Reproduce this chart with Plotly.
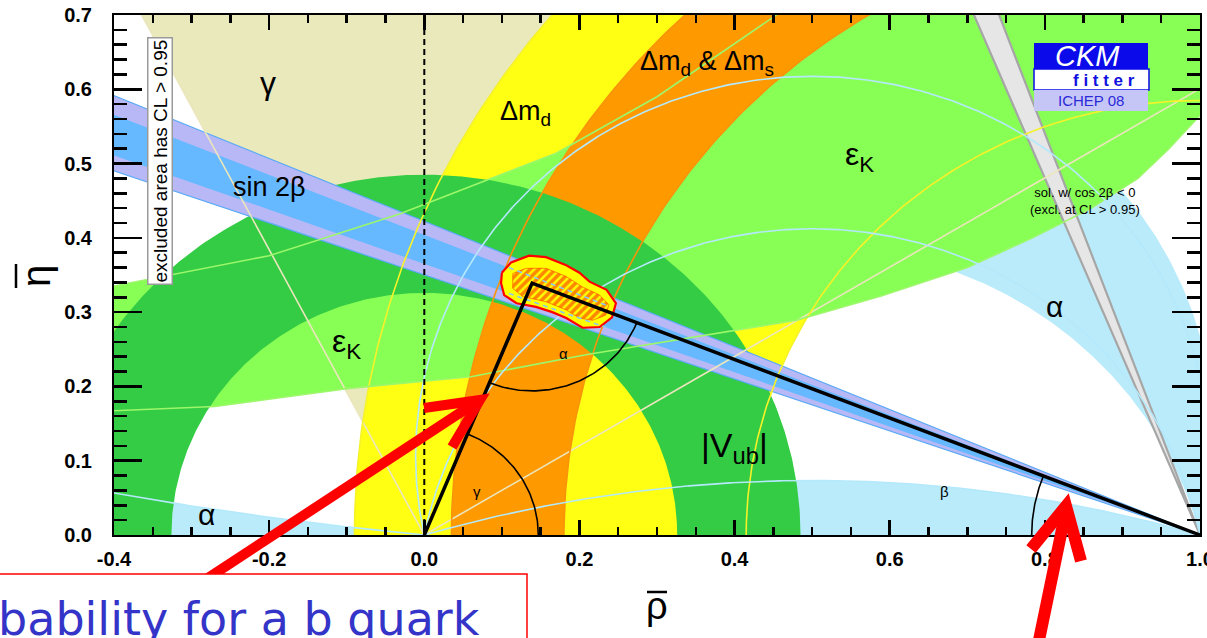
import numpy as np
import plotly.graph_objects as go

# ---------------- data ----------------
rho_range = [-0.4, 1.0]
eta_range = [0.0, 0.7]
rho_ticks = [-0.4, -0.2, 0.0, 0.2, 0.4, 0.6, 0.8, 1.0]
eta_ticks = [0.0, 0.1, 0.2, 0.3, 0.4, 0.5, 0.6, 0.7]

gamma_deg = [31.0, 117.5]            # gamma wedge from (0,0)
alpha_band_deg = [75.0, 104.3]        # alpha crescent
alpha_small_deg = 5.7                 # alpha mirror solution (small)
alpha_large_deg = 163.3               # alpha mirror solution (large)
alpha_line_deg = [78.0, 101.0]        # inner alpha contours
dmd_radii = [0.585, 1.09]             # Delta m_d annulus around (1,0)
dms_radii = [0.82, 0.965]             # Delta m_d & Delta m_s annulus around (1,0)
vub_radii = [0.326, 0.485]            # |Vub| annulus around (0,0)
sin2b_outer_deg = [19.3, 22.9]
sin2b_inner_deg = [20.05, 22.0]
cos2b_deg = [67.4, 69.7]

ek_up_rho = [-0.45, -0.4, -0.2, -0.032, 0.17, 0.3, 0.454, 0.55]
ek_up_eta = [0.325, 0.335, 0.376, 0.432, 0.514, 0.59, 0.70, 0.80]
ek_lo_rho = [-0.45, -0.4, -0.27, -0.1, 0.06, 0.21, 0.4, 0.48, 0.59, 0.70, 0.784, 0.86, 0.92, 0.96, 1.0, 1.05]
ek_lo_eta = [0.165, 0.167, 0.173, 0.197, 0.213, 0.243, 0.276, 0.289, 0.322, 0.36, 0.40, 0.44, 0.48, 0.52, 0.565, 0.65]

blob_rho = [0.100, 0.112, 0.135, 0.157, 0.183, 0.200, 0.213, 0.235, 0.247, 0.242, 0.226, 0.204,
            0.183, 0.165, 0.144, 0.119, 0.103, 0.099]
blob_eta = [0.353, 0.367, 0.376, 0.374, 0.363, 0.353, 0.341, 0.330, 0.312, 0.293, 0.280, 0.279,
            0.292, 0.300, 0.307, 0.312, 0.323, 0.339]
core_rho = [0.114, 0.131, 0.157, 0.183, 0.204, 0.226, 0.238, 0.234, 0.217, 0.200, 0.183, 0.157, 0.127, 0.114]
core_eta = [0.352, 0.359, 0.359, 0.348, 0.334, 0.323, 0.310, 0.296, 0.289, 0.292, 0.303, 0.314, 0.321, 0.332]

apex_rho, apex_eta = 0.139, 0.339
angle_arc_r = [0.147, 0.145, 0.217]   # gamma, alpha, beta arcs

# ---------------- colours ----------------
C_GAMMA = "#e9e9bb"
C_ALPHA = "#b9ebfb"
C_DMD = "#ffff14"
C_DMS = "#ff9900"
C_EK = "#88ff55"
C_VUB = "#33cc44"
C_S2B_OUT = "#b8b8f6"
C_S2B_IN = "#66b8ff"
C_COS = "#e6e6e6"


def arc(cx, cy, r, t0, t1, n=300):
    t = np.linspace(t0, t1, n)
    return cx + r * np.cos(t), cy + r * np.sin(t)


def alpha_circle(a_deg, n=400):
    cy = 0.5 / np.tan(np.radians(a_deg))
    R = np.hypot(0.5, cy)
    ta = np.arctan2(-cy, 0.5)
    return arc(0.5, cy, R, ta, np.pi - ta, n)


def alpha_lower(a_deg, xs):
    cy = 0.5 / np.tan(np.radians(a_deg))
    R = np.hypot(0.5, cy)
    return cy - np.sqrt(R ** 2 - (xs - 0.5) ** 2)


def annulus(cx, r_in, r_out):
    xo, yo = arc(cx, 0, r_out, 0, np.pi)
    xi, yi = arc(cx, 0, r_in, np.pi, 0)
    return np.concatenate([xo, xi]), np.concatenate([yo, yi])


def beta_band(b1, b2, L=2.2):
    a1, a2 = np.radians(180 - b1), np.radians(180 - b2)
    return ([1, 1 + L * np.cos(a1), 1 + L * np.cos(a2), 1],
            [0, L * np.sin(a1), L * np.sin(a2), 0])


fig = go.Figure()


def poly(x, y, color, line_color=None, lw=0):
    fig.add_trace(go.Scatter(x=list(x), y=list(y), mode="lines", fill="toself", fillcolor=color,
                             line=dict(color=line_color or color, width=lw), hoverinfo="skip",
                             showlegend=False))


def line(x, y, color, lw=1.5, dash=None):
    fig.add_trace(go.Scatter(x=list(x), y=list(y), mode="lines",
                             line=dict(color=color, width=lw, dash=dash), hoverinfo="skip",
                             showlegend=False))


# gamma wedge
L = 3.0
g1, g2 = np.radians(gamma_deg[0]), np.radians(gamma_deg[1])
poly([0, L * np.cos(g1), L * np.cos(g2), 0], [0, L * np.sin(g1), L * np.sin(g2), 0], C_GAMMA)

# alpha regions
xo, yo = alpha_circle(alpha_band_deg[0])
xi, yi = alpha_circle(alpha_band_deg[1])
poly(np.concatenate([xo, xi[::-1]]), np.concatenate([yo, yi[::-1]]), C_ALPHA)
xb, yb = alpha_circle(alpha_large_deg)
poly(xb, yb, C_ALPHA)
xs = np.linspace(0, -0.45, 100)
poly(list(xs) + [-0.45], list(alpha_lower(alpha_small_deg, xs)) + [0], C_ALPHA)

# Delta m_d
poly(*annulus(1.0, dmd_radii[0], dmd_radii[1]), C_DMD)
# eps_K
poly(ek_up_rho + [1.05] + ek_lo_rho[::-1], ek_up_eta + [0.8] + ek_lo_eta[::-1], C_EK)
# Delta m_s
poly(*annulus(1.0, dms_radii[0], dms_radii[1]), C_DMS)
# |Vub|
poly(*annulus(0.0, vub_radii[0], vub_radii[1]), C_VUB)
# sin 2beta
poly(*beta_band(*sin2b_outer_deg), C_S2B_OUT, "#5aaaf5", 1.2)
poly(*beta_band(*sin2b_inner_deg), C_S2B_IN)
# cos 2beta < 0 solution
poly(*beta_band(*cos2b_deg, L=1.0), C_COS, "#a6a6a6", 2.2)

# ---------- contour lines drawn on top ----------
for g in gamma_deg:
    line([0, 1.5 * np.cos(np.radians(g))], [0, 1.5 * np.sin(np.radians(g))], "#ebe6bd", 1.6)
for r in dmd_radii:
    line(*arc(1.0, 0, r, 0, np.pi), "#f6f22a", 1.6)
for r in dms_radii:
    line(*arc(1.0, 0, r, 0, np.pi), "#f7940a", 1.6)
line(ek_up_rho, ek_up_eta, "#9cf76a", 1.6)
line(ek_lo_rho, ek_lo_eta, "#9cf76a", 1.6)
for a in alpha_line_deg:
    line(*alpha_circle(a), "#b4e9fb", 1.6)
line(*alpha_circle(alpha_large_deg), "#b4e9fb", 1.6)
line(xs, alpha_lower(alpha_small_deg, xs), "#b4e9fb", 1.6)

# dashed vertical line at rho = 0
line([0, 0], eta_range, "black", 2, "6px,4px")

# ---------- global fit ----------
fig.add_trace(go.Scatter(x=blob_rho + blob_rho[:1], y=blob_eta + blob_eta[:1], mode="lines",
                         fill="toself", fillcolor="#ffff00", line=dict(color="#ff0000", width=2.2),
                         hoverinfo="skip", showlegend=False))
fig.add_trace(go.Scatter(x=core_rho + core_rho[:1], y=core_eta + core_eta[:1], mode="lines",
                         fill="toself",
                         fillpattern=dict(shape="/", fgcolor="#ff1000", bgcolor="#ffff00",
                                          size=6, solidity=0.6),
                         line=dict(color="#ff2000", width=0.5), hoverinfo="skip", showlegend=False))
xin = np.array([min(blob_rho) + 0.01, max(blob_rho) - 0.01])
for b in sin2b_inner_deg:
    line(xin, (1 - xin) * np.tan(np.radians(b)), "#8cc8f0", 1.6, "5px,4px")

# ---------- unitarity triangle ----------
line([0, apex_rho, 1], [0, apex_eta, 0], "black", 3.5)
ga = np.arctan2(apex_eta, apex_rho)
line(*arc(0, 0, angle_arc_r[0], 0, ga, 80), "black", 1.6)
a0 = np.arctan2(-apex_eta, -apex_rho) + 2 * np.pi
a1 = np.arctan2(-apex_eta, 1 - apex_rho) + 2 * np.pi
line(*arc(apex_rho, apex_eta, angle_arc_r[1], a0, a1, 80), "black", 1.6)
bb = np.arctan2(apex_eta, apex_rho - 1)
line(*arc(1, 0, angle_arc_r[2], np.pi, bb, 80), "black", 1.6)

# ---------- annotations ----------
F = "Liberation Sans"
ann = []


def lab(x, y, text, size, color="black", family=F, **kw):
    d = dict(x=x, y=y, text=text, showarrow=False, xanchor="center", yanchor="middle",
             font=dict(family=family, size=size, color=color))
    d.update(kw)
    ann.append(d)


lab(-0.202, 0.608, "γ", 32)
lab(0.131, 0.568, "Δm<sub>d</sub>", 27)
lab(0.365, 0.636, "Δm<sub>d</sub> &amp; Δm<sub>s</sub>", 27)
lab(0.561, 0.509, "ε<sub>K</sub>", 32)
lab(-0.200, 0.468, "sin 2β", 27)
lab(-0.100, 0.258, "ε<sub>K</sub>", 32)
lab(0.812, 0.307, "α", 30)
lab(-0.281, 0.028, "α", 30)
lab(0.400, 0.118, "|V<sub>ub</sub>|", 34)
lab(0.180, 0.244, "α", 15)
lab(0.068, 0.058, "γ", 15)
lab(0.670, 0.058, "β", 15)
lab(0.852, 0.449, "sol. w/ cos 2β &lt; 0<br>(excl. at CL &gt; 0.95)", 13)


# paper-referenced items
def P(px, py):
    return (px - 114) / 1086, (535 - py) / 520


px_, py_ = P(160, 161)
lab(px_, py_, "excluded area has CL &gt; 0.95", 19, xref="paper", yref="paper", textangle=-90,
    bordercolor="#9a9a9a", borderwidth=1.5, bgcolor="white", borderpad=1)
px_, py_ = P(36, 276)
lab(px_, py_, "η", 40, xref="paper", yref="paper", textangle=-90)
px_, py_ = P(657, 606)
lab(px_, py_, "ρ", 38, xref="paper", yref="paper")
px_, py_ = P(1087, 56)
lab(px_, py_, "<i>CKM</i>", 29, "white", xref="paper", yref="paper")
px_, py_ = P(1104, 80)
lab(px_, py_, "<b>f i t t e r</b>", 17, "#1010e0", xref="paper", yref="paper")
px_, py_ = P(1091, 101)
lab(px_, py_, "ICHEP 08", 15, "#2a2ad8", xref="paper", yref="paper")
px_, py_ = P(-4, 590)
ann.append(dict(x=px_, y=py_, xref="paper", yref="paper", xanchor="left", yanchor="top",
                text="bability for a b quark", showarrow=False,
                font=dict(family="DejaVu Sans", size=46, color="#3434c8")))

shapes = []


def rect(a, b, fill, lc=None, lw=0):
    x0, y0 = P(*a)
    x1, y1 = P(*b)
    shapes.append(dict(type="rect", xref="paper", yref="paper", x0=x0, y0=y0, x1=x1, y1=y1,
                       fillcolor=fill, line=dict(color=lc or fill, width=lw), layer="above"))


def path(pts, color, w):
    d = "M " + " L ".join(f"{P(*p)[0]:.5f},{P(*p)[1]:.5f}" for p in pts)
    shapes.append(dict(type="path", xref="paper", yref="paper", path=d,
                       line=dict(color=color, width=w), layer="above"))


rect((1034, 43), (1148, 69), "#0a0aea")
rect((1034, 69), (1149, 90), "white", "#0a0aea", 1.5)
rect((1034, 90), (1148, 111), "#c6c6f6")

# overline bars of the axis symbols
path([(647, 592), (667, 592)], "black", 2.5)
path([(16, 264), (16, 288)], "black", 2.5)

# red arrows
path([(208, 578), (478, 401)], "#ff0000", 10)
path([(424, 408), (480, 400), (452, 447)], "#ff0000", 10)
path([(1038, 645), (1066, 510)], "#ff0000", 12)
path([(1031, 549), (1066, 506), (1081, 561)], "#ff0000", 12)
# text box
rect((-2, 574), (527, 650), "white", "#ff0000", 1.5)

axis_font = dict(family=F, size=20, color="black", weight="bold")
fig.update_layout(
    width=1207, height=638,
    margin=dict(l=114, r=7, t=15, b=103, autoexpand=False),
    paper_bgcolor="white", plot_bgcolor="white",
    annotations=ann, shapes=shapes,
    xaxis=dict(range=rho_range, tickvals=rho_ticks, ticktext=[f"{v:.1f}" for v in rho_ticks],
               ticks="inside", ticklen=15, tickwidth=2.5, tickcolor="black",
               minor=dict(dtick=0.05, tick0=0, ticks="inside", ticklen=8, tickwidth=2.5,
                          tickcolor="black"),
               mirror="allticks", showline=True, linecolor="black", linewidth=2,
               showgrid=False, zeroline=False, tickfont=axis_font, ticklabelstandoff=5,
               ticklabeloverflow="allow", automargin=False),
    yaxis=dict(range=eta_range, tickvals=eta_ticks, ticktext=[f"{v:.1f}" for v in eta_ticks],
               ticks="inside", ticklen=28, tickwidth=2.5, tickcolor="black",
               minor=dict(dtick=0.02, tick0=0, ticks="inside", ticklen=13, tickwidth=2.5,
                          tickcolor="black"),
               mirror="allticks", showline=True, linecolor="black", linewidth=2,
               showgrid=False, zeroline=False, tickfont=axis_font, ticklabelstandoff=16,
               ticklabeloverflow="allow", automargin=False),
)

fig.write_html("out.html", config={"displayModeBar": False, "staticPlot": True},
               post_script="document.body.style.margin='0px';")
